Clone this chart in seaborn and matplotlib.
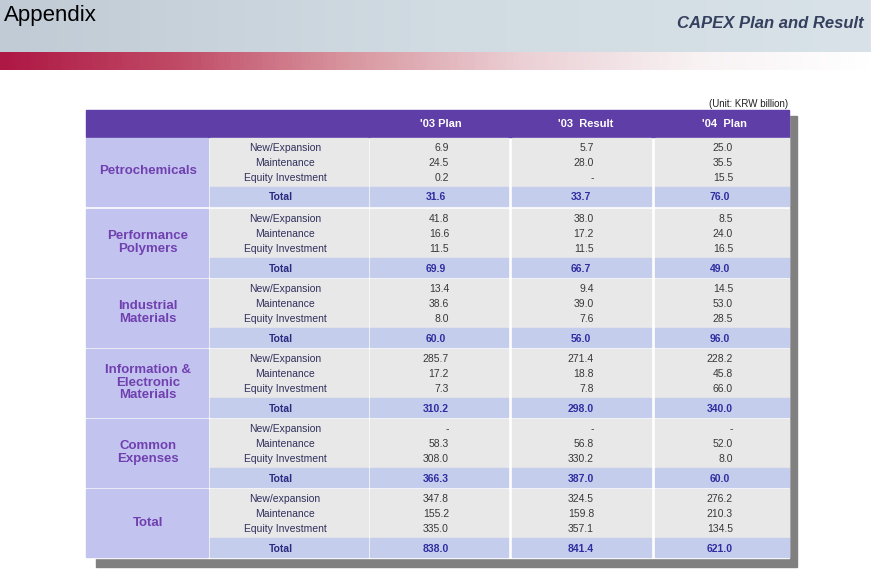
import numpy as np
import seaborn as sns
import matplotlib.pyplot as plt
from matplotlib.patches import Rectangle
from matplotlib.colors import LinearSegmentedColormap

# table contents
categories = ["Petrochemicals", "Performance\nPolymers", "Industrial\nMaterials",
              "Information &\nElectronic\nMaterials", "Common\nExpenses", "Total"]
items = ["New/Expansion", "Maintenance", "Equity Investment"]
items_total = ["New/expansion", "Maintenance", "Equity Investment"]
columns = ["'03 Plan", "'03  Result", "'04  Plan"]

plan03 = [[6.9, 24.5, 0.2], [41.8, 16.6, 11.5], [13.4, 38.6, 8.0],
          [285.7, 17.2, 7.3], [None, 58.3, 308.0], [347.8, 155.2, 335.0]]
plan03_total = [31.6, 69.9, 60.0, 310.2, 366.3, 838.0]
result03 = [[5.7, 28.0, None], [38.0, 17.2, 11.5], [9.4, 39.0, 7.6],
            [271.4, 18.8, 7.8], [None, 56.8, 330.2], [324.5, 159.8, 357.1]]
result03_total = [33.7, 66.7, 56.0, 298.0, 387.0, 841.4]
plan04 = [[25.0, 35.5, 15.5], [8.5, 24.0, 16.5], [14.5, 53.0, 28.5],
          [228.2, 45.8, 66.0], [None, 52.0, 8.0], [276.2, 210.3, 134.5]]
plan04_total = [76.0, 49.0, 96.0, 340.0, 60.0, 621.0]

values = [plan03, result03, plan04]
totals = [plan03_total, result03_total, plan04_total]

sns.set_theme(style="white")
plt.rcParams['font.family'] = ['Liberation Sans Narrow', 'Liberation Sans', 'DejaVu Sans']

fig = plt.figure(figsize=(8.71, 5.74), dpi=100)
ax = fig.add_axes([0, 0, 1, 1])
ax.set_xlim(0, 871)
ax.set_ylim(574, 0)
ax.axis("off")

# top banner
banner = LinearSegmentedColormap.from_list("ban", ["#c0cbd5", "#d0dbe2", "#d8e2e8"])
ax.imshow(np.linspace(0, 1, 200)[None, :], cmap=banner, aspect="auto",
          extent=[0, 871, 52, 0], zorder=0)
red = LinearSegmentedColormap.from_list("red", ["#ae1844", "#c04a66", "#d8969f",
                                                 "#ebd0d5", "#f8f2f3", "#ffffff"])
ax.imshow(np.linspace(0, 1, 200)[None, :], cmap=red, aspect="auto",
          extent=[0, 871, 70, 52], zorder=0)
ax.text(4, 16, "Appendix", fontsize=16, color="black", va="center", ha="left")
ax.text(864, 24, "CAPEX Plan and Result", fontsize=12, color="#34405e",
        fontweight="bold", style="italic", va="center", ha="right")

# table geometry
tx0, tx1 = 86, 789
col_cat = (86, 208)
col_item = (210, 368)
col_vals = [(370, 508), (512, 651), (655, 789)]
head_y = (110, 137)
block_h = 70
block_y0 = 138

# shadow
ax.add_patch(Rectangle((96, 116), 797 - 96, 567 - 116, color="#808080", zorder=1))
ax.add_patch(Rectangle((tx0, head_y[0]), tx1 - tx0, 558 - head_y[0], color="white", zorder=1))
ax.add_patch(Rectangle((tx0, head_y[0]), tx1 - tx0, head_y[1] - head_y[0], color="#5f3ea8", zorder=2))
ax.text(788, 104, "(Unit: KRW billion)", fontsize=7, color="#202020", ha="right", va="center")

head_x = [441, 586, 724]
for x, c in zip(head_x, columns):
    ax.text(x, 124, c, fontsize=8, color="white", fontweight="bold", ha="center", va="center", zorder=3)

val_right = [449, 594, 733]
tot_center = [436, 581, 720]

for b, cat in enumerate(categories):
    y0 = block_y0 + b * block_h + (1 if b else 0)
    y1 = y0 + block_h - 2
    ty0 = y0 + 49
    ax.add_patch(Rectangle((col_cat[0], y0), col_cat[1] - col_cat[0], y1 - y0, color="#c3c3ef", zorder=2))
    for (a, e) in [col_item] + col_vals:
        ax.add_patch(Rectangle((a, y0), e - a, ty0 - y0, color="#e8e8e8", zorder=2))
        ax.add_patch(Rectangle((a, ty0), e - a, y1 - ty0, color="#c5cdec", zorder=2))
    ax.text(148, (y0 + ty0) / 2 + 9, cat, fontsize=9.5, color="#7040b0", fontweight="bold",
            ha="center", va="center", linespacing=1.08, zorder=3)
    names = items_total if cat == "Total" else items
    for i, name in enumerate(names):
        yy = y0 + 10 + 15 * i
        ax.text(285, yy, name, fontsize=7.5, color="#30305c", ha="center", va="center", zorder=3)
        for k in range(3):
            v = values[k][b][i]
            s = "-" if v is None else f"{v:.1f}"
            ax.text(val_right[k], yy, s, fontsize=7.5, color="#383838", ha="right", va="center", zorder=3)
    ty = (ty0 + y1) / 2 + 1
    ax.text(281, ty, "Total", fontsize=7.5, color="#2a2a80", fontweight="bold", ha="center", va="center", zorder=3)
    for k in range(3):
        ax.text(tot_center[k], ty, f"{totals[k][b]:.1f}", fontsize=7.5, color="#2e2ea0",
                fontweight="bold", ha="center", va="center", zorder=3)

fig.savefig("out.png", dpi=100)
